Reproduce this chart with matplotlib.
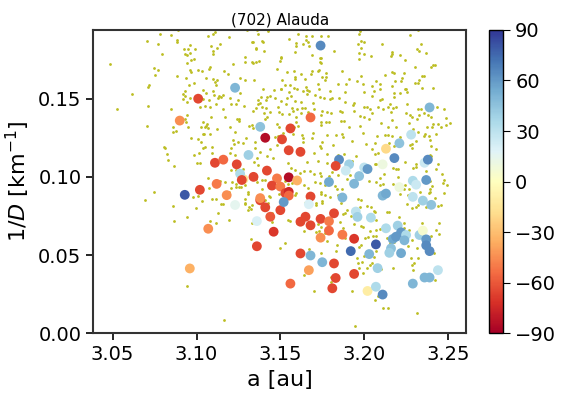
import numpy as np
import matplotlib
matplotlib.use("Agg")
import matplotlib.pyplot as plt

# family members (a [au], 1/D [1/km]) -- small background dots
family_pts = [
    # upper left
    (3.0782, 0.1915), (3.0848, 0.1907), (3.0888, 0.1939), (3.0702, 0.1866), (3.0768, 0.1853),
    (3.0884, 0.1874), (3.0882, 0.1862), (3.0924, 0.1817), (3.0930, 0.1789), (3.0794, 0.1787),
    (3.0946, 0.1731), (3.0486, 0.1720), (3.0748, 0.1699), (3.0768, 0.1686), (3.0750, 0.1654),
    (3.0886, 0.1648), (3.0940, 0.1630), (3.0716, 0.1590), (3.0710, 0.1577), (3.0618, 0.1532),
    (3.0932, 0.1547), (3.0922, 0.1528), (3.0934, 0.1517), (3.0918, 0.1495), (3.0942, 0.1478),
    (3.0708, 0.1455), (3.0528, 0.1436), (3.0846, 0.1436), (3.0942, 0.1393), (3.0934, 0.1373),
    (3.0940, 0.1348), (3.0706, 0.1328), (3.0862, 0.1316), (3.0858, 0.1288), (3.0880, 0.1294),
    (3.0804, 0.1194), (3.0812, 0.1183), (3.0824, 0.1144), (3.0832, 0.1106), (3.0866, 0.1069),
    # lower left
    (3.0744, 0.0900), (3.0692, 0.0855), (3.0858, 0.0814), (3.0868, 0.0715), (3.0942, 0.0740),
    (3.0942, 0.0304),
    (3.1072, 0.0930), (3.0980, 0.0874), (3.1010, 0.0880), (3.1030, 0.0848), (3.0998, 0.0803),
    (3.1092, 0.0857), (3.1118, 0.0857), (3.1144, 0.0827), (3.1156, 0.0827), (3.1126, 0.0767),
    (3.1194, 0.0904), (3.1206, 0.0927), (3.1238, 0.0957), (3.1254, 0.0934), (3.1238, 0.0932),
    (3.1264, 0.0938), (3.1290, 0.0951), (3.1358, 0.0968), (3.1310, 0.0906), (3.1308, 0.0891),
    (3.1288, 0.0859), (3.1288, 0.0835), (3.1290, 0.0825), (3.1312, 0.0810), (3.1306, 0.0788),
    (3.1328, 0.0818), (3.1326, 0.0793), (3.1196, 0.0726), (3.1078, 0.0716), (3.1118, 0.0707),
    (3.1332, 0.0707), (3.1390, 0.0921), (3.1430, 0.0876), (3.1438, 0.0874), (3.1410, 0.0853),
    (3.1426, 0.0835), (3.1448, 0.0771), (3.1492, 0.0893), (3.1448, 0.0709), (3.1322, 0.0602),
    (3.1498, 0.0544), (3.1164, 0.0086), (3.1168, 0.0968), (3.1212, 0.0970),
    # upper, 3.095-3.15
    (3.1110, 0.1928), (3.1096, 0.1911), (3.1068, 0.1902), (3.1192, 0.1894), (3.1304, 0.1939),
    (3.1362, 0.1937), (3.1368, 0.1915), (3.1424, 0.1934), (3.0960, 0.1845), (3.0950, 0.1819),
    (3.1142, 0.1851), (3.1088, 0.1834), (3.1124, 0.1825), (3.1096, 0.1804), (3.1098, 0.1787),
    (3.1328, 0.1860), (3.1336, 0.1860), (3.1394, 0.1860), (3.1392, 0.1868), (3.1352, 0.1825),
    (3.1354, 0.1817), (3.1404, 0.1802), (3.0964, 0.1795), (3.0946, 0.1782), (3.0990, 0.1819),
    (3.0966, 0.1750), (3.0988, 0.1755), (3.1288, 0.1765), (3.1292, 0.1737), (3.1330, 0.1735),
    (3.1338, 0.1729), (3.1356, 0.1735), (3.1370, 0.1742), (3.1496, 0.1744), (3.1504, 0.1765),
    (3.1218, 0.1722), (3.1080, 0.1705), (3.1072, 0.1692), (3.0960, 0.1684), (3.1006, 0.1684),
    (3.0968, 0.1669), (3.1034, 0.1675), (3.1162, 0.1675), (3.1186, 0.1658), (3.1100, 0.1624),
    (3.1056, 0.1630), (3.1124, 0.1620), (3.1118, 0.1588), (3.1110, 0.1609), (3.0984, 0.1598),
    (3.0954, 0.1590), (3.1258, 0.1630), (3.1292, 0.1618), (3.1344, 0.1622), (3.1480, 0.1688),
    (3.1396, 0.1562), (3.1464, 0.1558), (3.1506, 0.1560), (3.1036, 0.1555), (3.1096, 0.1551),
    (3.1056, 0.1538), (3.0962, 0.1504), (3.1104, 0.1523), (3.1132, 0.1515), (3.1156, 0.1525),
    (3.1144, 0.1513), (3.1128, 0.1504), (3.1202, 0.1504), (3.1258, 0.1534), (3.1248, 0.1493),
    (3.1036, 0.1495), (3.1076, 0.1491), (3.1384, 0.1508), (3.1418, 0.1513), (3.1436, 0.1517),
    (3.1466, 0.1504), (3.1368, 0.1489), (3.1414, 0.1491), (3.1364, 0.1468), (3.1380, 0.1470),
    (3.1048, 0.1455), (3.1018, 0.1448), (3.1078, 0.1444), (3.1114, 0.1465), (3.1156, 0.1436),
    (3.1204, 0.1463), (3.1234, 0.1465), (3.1282, 0.1455), (3.1352, 0.1442), (3.1388, 0.1448),
    (3.1412, 0.1438), (3.1488, 0.1448), (3.1334, 0.1423), (3.1402, 0.1406), (3.1436, 0.1412),
    (3.1494, 0.1416), (3.1172, 0.1386), (3.1240, 0.1369), (3.1256, 0.1369), (3.1252, 0.1356),
    (3.1088, 0.1384), (3.1036, 0.1354), (3.1064, 0.1341), (3.1028, 0.1322), (3.1058, 0.1326),
    (3.1050, 0.1316), (3.1070, 0.1313), (3.0952, 0.1322), (3.1120, 0.1305), (3.1198, 0.1316),
    (3.1230, 0.1288), (3.1314, 0.1324), (3.1328, 0.1331), (3.1398, 0.1316), (3.1338, 0.1311),
    (3.1422, 0.1386), (3.1408, 0.1373), (3.1480, 0.1337), (3.1492, 0.1316), (3.0968, 0.1251),
    (3.1036, 0.1271), (3.1042, 0.1275), (3.1080, 0.1273), (3.1028, 0.1220), (3.1006, 0.1245),
    (3.1216, 0.1234), (3.1222, 0.1213), (3.1250, 0.1224), (3.1276, 0.1217), (3.1296, 0.1247),
    (3.1350, 0.1221), (3.1466, 0.1253), (3.1484, 0.1262), (3.1050, 0.1194), (3.1092, 0.1191),
    (3.1036, 0.1185), (3.0984, 0.1138), (3.1014, 0.1155), (3.1094, 0.1155), (3.1208, 0.1183),
    (3.1200, 0.1151), (3.1230, 0.1142), (3.1348, 0.1187), (3.1376, 0.1159), (3.1440, 0.1176),
    (3.1482, 0.1204), (3.1418, 0.1134), (3.1358, 0.1123), (3.1454, 0.1123), (3.1004, 0.1091),
    (3.1018, 0.1091), (3.1208, 0.1044), (3.1234, 0.1044), (3.1342, 0.1093), (3.1368, 0.1074),
    (3.1280, 0.1052), (3.1282, 0.0997), (3.1066, 0.0990), (3.1138, 0.0973), (3.1354, 0.0984),
    (3.1388, 0.0982), (3.1406, 0.0982),
    # upper, 3.15-3.205
    (3.1603, 0.1917), (3.1549, 0.1879), (3.1653, 0.1898), (3.1687, 0.1898), (3.1743, 0.1898),
    (3.1787, 0.1902), (3.1973, 0.1930), (3.1967, 0.1915), (3.1595, 0.1857), (3.1633, 0.1851),
    (3.1655, 0.1877), (3.1663, 0.1860), (3.1591, 0.1834), (3.1673, 0.1834), (3.1587, 0.1797),
    (3.1689, 0.1780), (3.1739, 0.1759), (3.1745, 0.1759), (3.1737, 0.1733), (3.1741, 0.1729),
    (3.1821, 0.1806), (3.1983, 0.1872), (3.1961, 0.1851), (3.1997, 0.1862), (3.1981, 0.1827),
    (3.1971, 0.1795), (3.2001, 0.1787), (3.1967, 0.1755), (3.2041, 0.1772), (3.1505, 0.1761),
    (3.1541, 0.1673), (3.1579, 0.1680), (3.1585, 0.1637), (3.1587, 0.1626), (3.1689, 0.1680),
    (3.1731, 0.1684), (3.1725, 0.1675), (3.1749, 0.1637), (3.1775, 0.1637), (3.1773, 0.1665),
    (3.1867, 0.1680), (3.1625, 0.1658), (3.1649, 0.1626), (3.1681, 0.1658), (3.1981, 0.1643),
    (3.1959, 0.1615), (3.1911, 0.1626), (3.1891, 0.1594), (3.1843, 0.1594), (3.1995, 0.1594),
    (3.2045, 0.1581), (3.1511, 0.1622), (3.1525, 0.1588), (3.1555, 0.1590), (3.1505, 0.1562),
    (3.1579, 0.1566), (3.1597, 0.1562), (3.1653, 0.1577), (3.1661, 0.1558), (3.1725, 0.1594),
    (3.1767, 0.1622), (3.1551, 0.1540), (3.1541, 0.1504), (3.1561, 0.1517), (3.1533, 0.1465),
    (3.1633, 0.1547), (3.1661, 0.1532), (3.1673, 0.1547), (3.1705, 0.1525), (3.1729, 0.1562),
    (3.1739, 0.1508), (3.1795, 0.1547), (3.1811, 0.1506), (3.1849, 0.1506), (3.1883, 0.1476),
    (3.1939, 0.1472), (3.1935, 0.1457), (3.1883, 0.1540), (3.1999, 0.1540), (3.2061, 0.1551),
    (3.2047, 0.1517), (3.1505, 0.1483), (3.1585, 0.1487), (3.1625, 0.1476), (3.1697, 0.1474),
    (3.1761, 0.1502), (3.1799, 0.1498), (3.1701, 0.1433), (3.1567, 0.1438), (3.1573, 0.1423),
    (3.1597, 0.1436), (3.1631, 0.1442), (3.1649, 0.1440), (3.1663, 0.1412), (3.1509, 0.1401),
    (3.1551, 0.1401), (3.1595, 0.1384), (3.1625, 0.1406), (3.1749, 0.1423), (3.1779, 0.1416),
    (3.1743, 0.1397), (3.1803, 0.1410), (3.1857, 0.1423), (3.1867, 0.1412), (3.1939, 0.1423),
    (3.1997, 0.1444), (3.2019, 0.1448), (3.2033, 0.1436), (3.2045, 0.1406), (3.2001, 0.1384),
    (3.2031, 0.1373), (3.1973, 0.1391), (3.1607, 0.1326), (3.1573, 0.1273), (3.1745, 0.1354),
    (3.1771, 0.1352), (3.1793, 0.1354), (3.1745, 0.1333), (3.1861, 0.1358), (3.1879, 0.1358),
    (3.1911, 0.1316), (3.1977, 0.1324), (3.1591, 0.1354), (3.1517, 0.1283), (3.1583, 0.1316),
    (3.1629, 0.1268), (3.1635, 0.1251), (3.1689, 0.1251), (3.1693, 0.1279), (3.1777, 0.1266),
    (3.1829, 0.1266), (3.1867, 0.1273), (3.1873, 0.1258), (3.1927, 0.1230), (3.1995, 0.1279),
    (3.2009, 0.1208), (3.1637, 0.1220), (3.1749, 0.1220), (3.1739, 0.1198), (3.1743, 0.1187),
    (3.1817, 0.1202), (3.1703, 0.1155), (3.1781, 0.1149), (3.1841, 0.1138), (3.1877, 0.1149),
    (3.1951, 0.1134), (3.2049, 0.1176), (3.1657, 0.1095), (3.1725, 0.1101), (3.1779, 0.1091),
    (3.1543, 0.1091), (3.1561, 0.1059), (3.1641, 0.1037), (3.1675, 0.1037), (3.1703, 0.1016),
    (3.1809, 0.1031), (3.1739, 0.1022), (3.1743, 0.1005), (3.1791, 0.1005), (3.1841, 0.1014),
    (3.1895, 0.0988), (3.1617, 0.1022), (3.1589, 0.1042), (3.1525, 0.0973), (3.1925, 0.1101),
    (3.1917, 0.1011), (3.2067, 0.1080), (3.2031, 0.0973),
    # upper right
    (3.2319, 0.1941), (3.2271, 0.1907), (3.2107, 0.1847), (3.2341, 0.1847), (3.2317, 0.1815),
    (3.2327, 0.1804), (3.2367, 0.1791), (3.2163, 0.1797), (3.2167, 0.1787), (3.2159, 0.1770),
    (3.2213, 0.1782), (3.2243, 0.1750), (3.2303, 0.1705), (3.2401, 0.1705), (3.2411, 0.1714),
    (3.2423, 0.1714), (3.2165, 0.1669), (3.2177, 0.1665), (3.2237, 0.1667), (3.2123, 0.1654),
    (3.2347, 0.1648), (3.2357, 0.1643), (3.2073, 0.1615), (3.2227, 0.1635), (3.2221, 0.1611),
    (3.2327, 0.1620), (3.2319, 0.1600), (3.2303, 0.1598), (3.2183, 0.1615), (3.2095, 0.1560),
    (3.2097, 0.1596), (3.2167, 0.1579), (3.2345, 0.1570), (3.2411, 0.1570), (3.2241, 0.1562),
    (3.2249, 0.1562), (3.2257, 0.1545), (3.2179, 0.1534), (3.2211, 0.1534), (3.2175, 0.1508),
    (3.2107, 0.1500), (3.2097, 0.1493), (3.2255, 0.1468), (3.2153, 0.1465), (3.2145, 0.1444),
    (3.2187, 0.1444), (3.2171, 0.1438), (3.2083, 0.1448), (3.2111, 0.1436), (3.2477, 0.1433),
    (3.2437, 0.1444), (3.2321, 0.1436), (3.2341, 0.1431), (3.2159, 0.1418), (3.2327, 0.1395),
    (3.2315, 0.1373), (3.2249, 0.1408), (3.2275, 0.1397), (3.2287, 0.1384), (3.2359, 0.1406),
    (3.2383, 0.1397), (3.2399, 0.1380), (3.2485, 0.1378), (3.2443, 0.1341), (3.2459, 0.1322),
    (3.2411, 0.1341), (3.2405, 0.1316), (3.2489, 0.1331), (3.2509, 0.1346), (3.2101, 0.1343),
    (3.2165, 0.1365), (3.2145, 0.1316), (3.2187, 0.1316), (3.2269, 0.1346), (3.2291, 0.1305),
    (3.2321, 0.1286), (3.2375, 0.1316), (3.2365, 0.1271), (3.2387, 0.1262), (3.2359, 0.1264),
    (3.2427, 0.1277), (3.2127, 0.1268), (3.2145, 0.1268), (3.2167, 0.1264), (3.2077, 0.1264),
    (3.2213, 0.1258), (3.2177, 0.1198), (3.2151, 0.1219), (3.2067, 0.1215), (3.2309, 0.1230),
    (3.2395, 0.1234), (3.2285, 0.1208), (3.2275, 0.1204), (3.2399, 0.1198), (3.2283, 0.1183),
    (3.2427, 0.1181), (3.2067, 0.1149), (3.2083, 0.1155), (3.2391, 0.1140), (3.2397, 0.1134),
    (3.2071, 0.1080), (3.2171, 0.1059), (3.2201, 0.1050), (3.2245, 0.1097), (3.2441, 0.1080),
    (3.2307, 0.1080), (3.2311, 0.1063), (3.2291, 0.1059), (3.2427, 0.1048), (3.2369, 0.1037),
    (3.2463, 0.1020), (3.2117, 0.1020), (3.2093, 0.0994), (3.2203, 0.0999), (3.2281, 0.0990),
    (3.2477, 0.0977), (3.2187, 0.1048),
    # lower, 3.15-3.205
    (3.1545, 0.0955), (3.1571, 0.0960), (3.1641, 0.0947), (3.1663, 0.0930), (3.1707, 0.0964),
    (3.1739, 0.0960), (3.1769, 0.0951), (3.1825, 0.0942), (3.1839, 0.0921), (3.1865, 0.0921),
    (3.1745, 0.0906), (3.1741, 0.0893), (3.1765, 0.0882), (3.1795, 0.0868), (3.1841, 0.0885),
    (3.1645, 0.0831), (3.1715, 0.0831), (3.1749, 0.0848), (3.1749, 0.0835), (3.1861, 0.0831),
    (3.1983, 0.0853), (3.1963, 0.0861), (3.2017, 0.0812), (3.2041, 0.0810), (3.2057, 0.0784),
    (3.1873, 0.0763), (3.1885, 0.0767), (3.1919, 0.0750), (3.1895, 0.0788), (3.1713, 0.0820),
    (3.1975, 0.0810), (3.1949, 0.0801), (3.1559, 0.0720), (3.1545, 0.0724), (3.1599, 0.0705),
    (3.1639, 0.0656), (3.1727, 0.0701), (3.1745, 0.0681), (3.1715, 0.0649), (3.1731, 0.0651),
    (3.1765, 0.0638), (3.1855, 0.0713), (3.1873, 0.0671), (3.1863, 0.0632), (3.1939, 0.0696),
    (3.1981, 0.0683), (3.1991, 0.0677), (3.2033, 0.0653), (3.2021, 0.0615), (3.2005, 0.0608),
    (3.2051, 0.0619), (3.1527, 0.0574), (3.1671, 0.0540), (3.1741, 0.0514), (3.1777, 0.0587),
    (3.1837, 0.0563), (3.1829, 0.0523), (3.1885, 0.0606), (3.1969, 0.0553), (3.1981, 0.0566),
    (3.1955, 0.0482), (3.1963, 0.0446), (3.1971, 0.0418), (3.2001, 0.0495), (3.1985, 0.0454),
    (3.2015, 0.0420), (3.1991, 0.0386), (3.2037, 0.0437), (3.1803, 0.0360), (3.1805, 0.0326),
    (3.1641, 0.0371), (3.1699, 0.0272), (3.1925, 0.0272), (3.1945, 0.0047), (3.2045, 0.0450),
    (3.2061, 0.0488), (3.1591, 0.0895), (3.1585, 0.0885),
    # lower right
    (3.2073, 0.0970), (3.2111, 0.0955), (3.2097, 0.0945), (3.2171, 0.0955), (3.2213, 0.0891),
    (3.2237, 0.0923), (3.2241, 0.0945), (3.2265, 0.0925), (3.2259, 0.0885), (3.2283, 0.0887),
    (3.2331, 0.0902), (3.2391, 0.0975), (3.2405, 0.0942), (3.2395, 0.0923), (3.2423, 0.0865),
    (3.2471, 0.0960), (3.2491, 0.0947), (3.2475, 0.0895), (3.2385, 0.0895), (3.2391, 0.0900),
    (3.2253, 0.0827), (3.2283, 0.0803), (3.2311, 0.0805), (3.2323, 0.0823), (3.2367, 0.0810),
    (3.2439, 0.0814), (3.2459, 0.0818), (3.2067, 0.0773), (3.2147, 0.0778), (3.2073, 0.0726),
    (3.2207, 0.0745), (3.2347, 0.0707), (3.2447, 0.0703), (3.2237, 0.0703), (3.2239, 0.0671),
    (3.2267, 0.0660), (3.2073, 0.0621), (3.2097, 0.0664), (3.2135, 0.0606), (3.2153, 0.0574),
    (3.2177, 0.0585), (3.2283, 0.0596), (3.2263, 0.0559), (3.2313, 0.0546), (3.2427, 0.0660),
    (3.2445, 0.0632), (3.2399, 0.0621), (3.2417, 0.0516), (3.2073, 0.0525), (3.2323, 0.0484),
    (3.2279, 0.0484), (3.2299, 0.0452), (3.2287, 0.0439), (3.2291, 0.0407), (3.2173, 0.0420),
    (3.2103, 0.0409), (3.2423, 0.0339), (3.2067, 0.0214), (3.2083, 0.0236), (3.2113, 0.0163),
    (3.2143, 0.0159), (3.2317, 0.0131), (3.2071, 0.0660), (3.2137, 0.0778),
]

# objects with a derived value (colour-coded): (a, 1/D, value)
colored_pts = [
    (3.128, 0.0985, -15),
    (3.174, 0.184, 65), (3.123, 0.157, 50), (3.101, 0.150, -65), (3.090, 0.136, -45),
    (3.138, 0.132, 45), (3.141, 0.125, -85), (3.151, 0.124, -65), (3.131, 0.114, 40),
    (3.111, 0.109, -65), (3.116, 0.111, -55), (3.124, 0.108, -65), (3.126, 0.102, 35),
    (3.134, 0.100, -65), (3.142, 0.104, -65), (3.148, 0.099, -50), (3.127, 0.098, -65),
    (3.112, 0.0955, -50), (3.168, 0.138, -55), (3.156, 0.131, -65), (3.155, 0.117, -65),
    (3.162, 0.116, -65), (3.185, 0.111, 65), (3.183, 0.107, -65), (3.191, 0.108, 40),
    (3.189, 0.104, 25), (3.200, 0.106, 30), (3.202, 0.105, 60), (3.197, 0.1005, 45),
    (3.155, 0.0997, -85), (3.160, 0.0977, -35), (3.179, 0.0967, 55), (3.239, 0.1444, 50),
    (3.228, 0.127, 30), (3.221, 0.1215, 45), (3.213, 0.118, -20), (3.218, 0.112, 65),
    (3.211, 0.108, 10), (3.236, 0.109, 25), (3.238, 0.111, 65), (3.229, 0.0975, 35),
    (3.237, 0.098, 60), (3.231, 0.095, 25), (3.221, 0.0934, 10), (3.194, 0.0956, 50),
    (3.093, 0.0885, 80), (3.102, 0.0917, -65), (3.118, 0.0883, -45), (3.123, 0.082, 15),
    (3.138, 0.085, -65), (3.138, 0.0864, -45), (3.141, 0.0805, -65), (3.144, 0.0745, -60),
    (3.145, 0.0944, -65), (3.150, 0.0938, -50), (3.150, 0.0787, -65), (3.136, 0.0717, 20),
    (3.146, 0.0649, -70), (3.107, 0.0668, -45), (3.136, 0.0556, -65), (3.096, 0.0414, -35),
    (3.153, 0.0896, -65), (3.155, 0.0904, -75), (3.155, 0.088, -55), (3.152, 0.0839, 60),
    (3.168, 0.0874, -65), (3.167, 0.0825, 20), (3.187, 0.0868, 50), (3.165, 0.0745, -65),
    (3.162, 0.0713, -65), (3.168, 0.069, -65), (3.174, 0.0731, -65), (3.179, 0.0716, -50),
    (3.182, 0.0767, -65), (3.179, 0.0656, -55), (3.174, 0.0611, -45), (3.187, 0.063, -50),
    (3.194, 0.0604, -70), (3.195, 0.0778, 30), (3.196, 0.0744, 40), (3.204, 0.0739, 35),
    (3.192, 0.0525, 75), (3.207, 0.0568, 80), (3.162, 0.051, -65), (3.168, 0.0497, 50),
    (3.175, 0.0454, 50), (3.182, 0.0446, -65), (3.203, 0.0506, 50), (3.167, 0.0403, -40),
    (3.183, 0.0353, -65), (3.194, 0.0379, -65), (3.156, 0.0317, -55), (3.181, 0.0287, -65),
    (3.202, 0.027, -10), (3.207, 0.0297, 35), (3.211, 0.0247, 65), (3.211, 0.088, 50),
    (3.213, 0.0893, 55), (3.229, 0.0872, 30), (3.235, 0.0848, 40), (3.240, 0.0821, 45),
    (3.213, 0.0671, 35), (3.220, 0.0688, 40), (3.217, 0.0602, 55), (3.219, 0.0617, 60),
    (3.222, 0.0645, 60), (3.225, 0.0628, 35), (3.224, 0.0594, 50), (3.233, 0.0628, 40),
    (3.235, 0.0656, 5), (3.237, 0.060, 60), (3.237, 0.0562, 65), (3.239, 0.0525, 65),
    (3.216, 0.0542, 45), (3.215, 0.0514, 40), (3.222, 0.0512, 55), (3.208, 0.0416, 40),
    (3.244, 0.0403, 30), (3.236, 0.0356, 50), (3.239, 0.0356, 50), (3.229, 0.0317, 50),
]

title = "(702) Alauda"
cbar_ticks = [-90, -60, -30, 0, 30, 60, 90]

fam_a, fam_invd = np.array(family_pts).T
obs_a, obs_invd, obs_val = np.array(colored_pts).T

fig = plt.figure(figsize=(5.65, 3.99), dpi=100)
ax = fig.add_axes([0.165, 0.165, 0.66, 0.76])
cax = fig.add_axes([0.866, 0.165, 0.025, 0.76])

ax.scatter(fam_a, fam_invd, s=4, c='#bcbd22', linewidths=0, zorder=1)
sc = ax.scatter(obs_a, obs_invd, c=obs_val, cmap='RdYlBu', vmin=-90, vmax=90,
                s=50, linewidths=0, zorder=2)

ax.set_xlim(3.0384, 3.2608)
ax.set_ylim(0, 0.194)
ax.set_xticks([3.05, 3.10, 3.15, 3.20, 3.25])
ax.set_yticks([0.00, 0.05, 0.10, 0.15])
ax.set_xlabel("a [au]", fontsize=16)
ax.set_ylabel("1/$D$ [km$^{-1}$]", fontsize=16)
ax.set_title(title, fontsize=11, pad=4)
ax.tick_params(labelsize=14, length=5, width=1.2)
for sp in ax.spines.values():
    sp.set_linewidth(1.5)
    sp.set_color('#333333')

cb = fig.colorbar(sc, cax=cax, ticks=cbar_ticks)
cb.ax.tick_params(labelsize=14, length=5)
cb.outline.set_linewidth(1.0)

fig.savefig("out.png", dpi=100)
